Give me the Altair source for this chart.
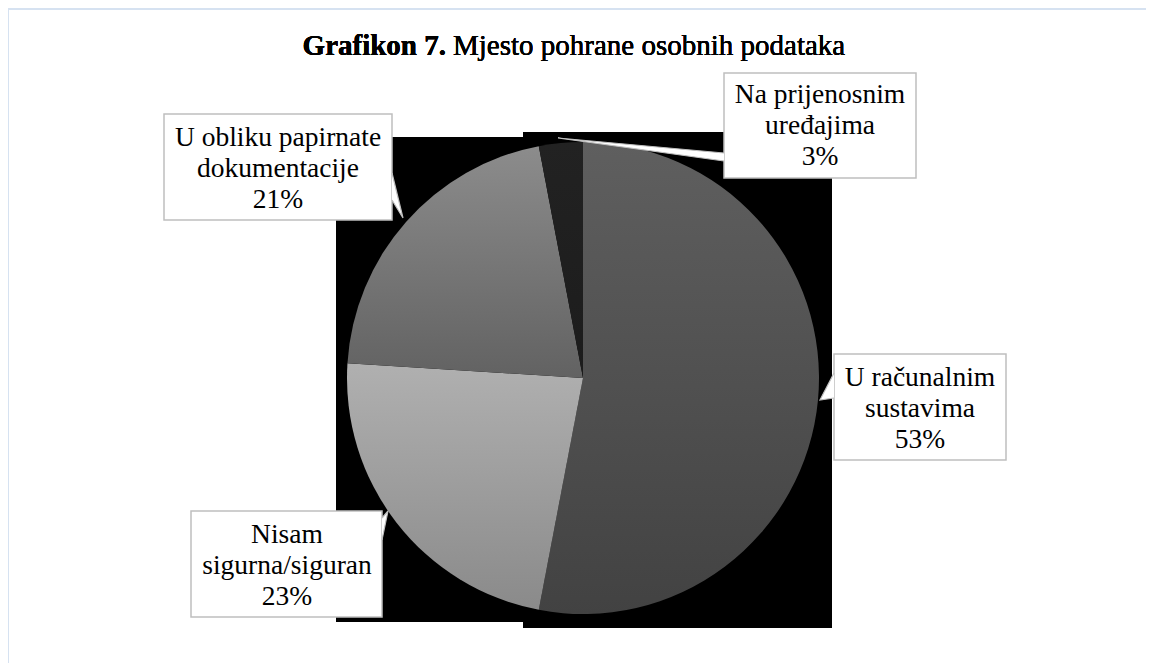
import altair as alt
import pandas as pd

# ---- data ----
categories = ["U računalnim sustavima", "Nisam sigurna/siguran",
              "U obliku papirnate dokumentacije", "Na prijenosnim uređajima"]
label_lines = ["U računalnim\nsustavima", "Nisam\nsigurna/siguran",
               "U obliku papirnate\ndokumentacije", "Na prijenosnim\nuređajima"]
percent = [53, 23, 21, 3]
title_bold = "Grafikon 7."
title_rest = "Mjesto pohrane osobnih podataka"

# ---- layout (image pixel coords) ----
W, H = 1138, 655
OFF = 8
CX, CY, R = 583, 378, 236
FONT = "Liberation Serif"
boxes = {  # x1, x2, y1, y2, text cx, first-line cy
    0: (834, 1006, 354, 460, 920, 378),
    1: (191, 382, 511, 617, 287, 535),
    2: (164, 392, 114, 220, 278, 138),
    3: (724, 916, 73, 178, 820, 95),
}
pointers = {  # base x, base y1, base y2, tip x, tip y
    0: (834, 373, 398, 820, 400),
    1: (382, 518, 540, 388, 511),
    2: (392, 173, 200, 403, 218),
    3: (724, 153, 161, 558, 138),
}
gradients = {
    0: ("#5f5f5f", "#424242"),
    1: ("#b0b0b0", "#8a8a8a"),
    2: ("#8c8c8c", "#626262"),
    3: ("#222222", "#1c1c1c"),
}

def px(v):
    return v - OFF

xs = alt.Scale(domain=[0, W], nice=False, zero=False)
ys = alt.Scale(domain=[0, H], nice=False, zero=False, reverse=True)

data = pd.DataFrame({"category": categories, "label": label_lines,
                     "value": percent, "order": list(range(len(categories)))})

layers = []

# frame lines (top + left)
layers.append(alt.Chart(data).mark_rule(color="#d6e2f1", strokeWidth=2).encode(
    x=alt.value(0), x2=alt.value(W), y=alt.value(1)))
layers.append(alt.Chart(data).mark_rule(color="#d6e2f1", strokeWidth=2).encode(
    x=alt.value(0), y=alt.value(0), y2=alt.value(H)))

# black background behind the pie
layers.append(alt.Chart(data).mark_rect(color="black").encode(
    x=alt.value(px(336)), x2=alt.value(px(524)), y=alt.value(px(137)), y2=alt.value(px(622))))
layers.append(alt.Chart(data).mark_rect(color="black").encode(
    x=alt.value(px(523)), x2=alt.value(px(832)), y=alt.value(px(132)), y2=alt.value(px(628))))

# pie slices
base = alt.Chart(data).transform_window(
    cum="sum(value)", sort=[alt.SortField("order")]
).transform_calculate(c0="datum.cum - datum.value", c1="datum.cum")
for i, cat in enumerate(categories):
    top, bot = gradients[i]
    grad = {"gradient": "linear", "x1": 0, "y1": 0, "x2": 0, "y2": 1,
            "stops": [{"offset": 0, "color": top}, {"offset": 1, "color": bot}]}
    layers.append(base.transform_filter(alt.datum.category == cat).mark_arc(
        radius=R, color=grad, stroke=None).encode(
        theta=alt.Theta("c0:Q", scale=alt.Scale(domain=[0, 100], range=[0, 6.283185307])),
        theta2="c1:Q",
        x=alt.value(px(CX)), y=alt.value(px(CY))))

# callout boxes
box_rows = []
for i in range(len(categories)):
    x1, x2, y1, y2, tx, ty = boxes[i]
    box_rows.append({"category": categories[i], "x1": px(x1), "x2": px(x2),
                     "y1": px(y1), "y2": px(y2)})
box_df = pd.DataFrame(box_rows)
layers.append(alt.Chart(box_df).mark_rect(fill="white", stroke="#bfbfbf", strokeWidth=1.5).encode(
    x=alt.X("x1:Q", scale=xs, axis=None), x2="x2:Q",
    y=alt.Y("y1:Q", scale=ys, axis=None), y2="y2:Q"))

# callout pointers (white triangles + grey edges)
for i in range(len(categories)):
    bx, by1, by2, tx, ty = pointers[i]
    tri = pd.DataFrame({"x": [px(bx), px(tx)], "ya": [px(by1), px(ty)], "yb": [px(by2), px(ty)]})
    layers.append(alt.Chart(tri).mark_area(color="white", orient="vertical").encode(
        x=alt.X("x:Q", scale=xs, axis=None),
        y=alt.Y("ya:Q", scale=ys, axis=None), y2="yb:Q"))
    edges = pd.DataFrame({"x": [px(bx), px(tx), px(bx)], "y": [px(by1), px(ty), px(by2)]})
    edges["o"] = [0, 1, 2]
    layers.append(alt.Chart(edges).mark_line(color="#bfbfbf", strokeWidth=1.2).encode(
        x=alt.X("x:Q", scale=xs, axis=None),
        y=alt.Y("y:Q", scale=ys, axis=None), order="o:Q"))

# label texts
lab_rows = []
for i in range(len(categories)):
    x1, x2, y1, y2, tx, ty = boxes[i]
    lab_rows.append({"category": categories[i], "tx": px(tx), "ty": px(ty)})
lab_df = data.merge(pd.DataFrame(lab_rows), on="category")
layers.append(alt.Chart(lab_df).transform_calculate(
    txt="datum.label + '\\n' + datum.value + '%'"
).mark_text(font=FONT, fontSize=27.5, lineHeight=31, lineBreak="\n",
            align="center", baseline="middle", color="black").encode(
    x=alt.X("tx:Q", scale=xs, axis=None),
    y=alt.Y("ty:Q", scale=ys, axis=None),
    text="txt:N"))

# title
layers.append(alt.Chart(data).mark_text(font=FONT, fontSize=29, fontWeight="bold",
                                        align="right", baseline="alphabetic", color="black").encode(
    x=alt.value(px(446)), y=alt.value(px(55)), text=alt.value(title_bold)))
layers.append(alt.Chart(data).mark_text(font=FONT, fontSize=29,
                                        align="left", baseline="alphabetic", color="black").encode(
    x=alt.value(px(453)), y=alt.value(px(55)), text=alt.value(title_rest)))

chart = alt.layer(*layers).properties(
    width=W, height=H, padding=0, autosize=alt.AutoSizeParams(type="none"),
    background="white"
).configure_view(stroke=None)

chart.save("out.html", embed_options={"renderer": "svg", "actions": False})
